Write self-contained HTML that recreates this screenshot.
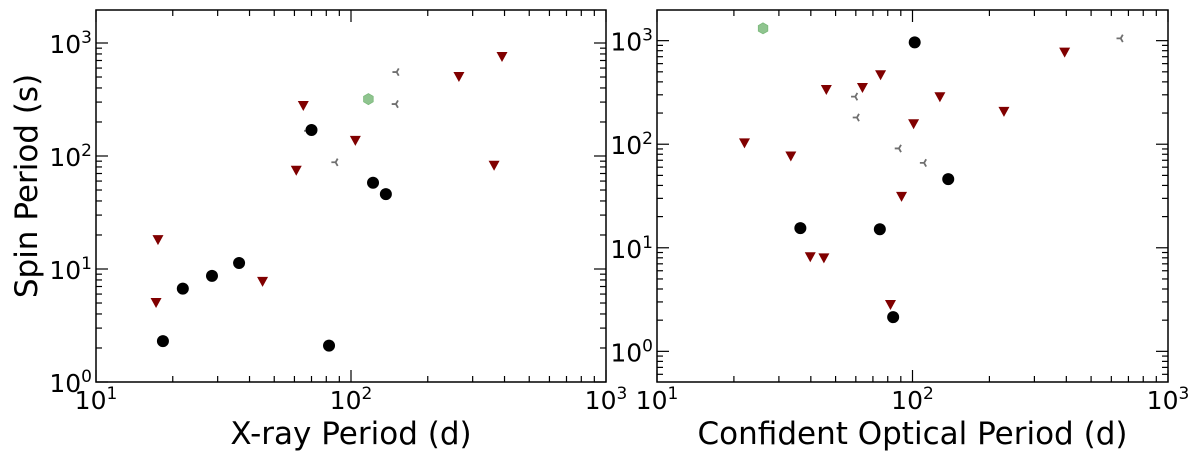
<!DOCTYPE html>
<html><head><meta charset="utf-8">
<style>
html,body{margin:0;padding:0;background:#fff;}
svg{display:block;font-family:"DejaVu Sans","Liberation Sans",sans-serif;}
</style></head>
<body>
<svg id="chart" width="1200" height="460" viewBox="0 0 1200 460" xmlns="http://www.w3.org/2000/svg"></svg>
<script>
// ---- Left panel data (X-ray period vs spin period) ----
const leftCircleX = [18.3, 21.9, 28.5, 36.4, 82, 70, 122, 137];
const leftCircleY = [2.3, 6.7, 8.7, 11.3, 2.1, 170, 58, 46];
const leftTriX = [17.2, 17.5, 45, 65, 61, 104, 265, 391, 364];
const leftTriY = [5.0, 18, 7.7, 277, 74, 136, 500, 752, 82];
const leftGreyX = [151, 150, 87, 68];
const leftGreyY = [553, 288, 88, 167];
const leftHexX = [117];
const leftHexY = [319];
// ---- Right panel data (optical period vs spin period) ----
const rightCircleX = [102, 36.4, 74.5, 84, 138];
const rightCircleY = [963, 15.5, 15.1, 2.14, 46];
const rightTriX = [22, 33.4, 39.8, 45, 46, 63.7, 75, 101, 128, 228, 394, 90.6, 82];
const rightTriY = [102, 76, 8.1, 7.9, 334, 349, 463, 156, 284, 205, 766, 31, 2.8];
const rightGreyX = [59.7, 60.6, 88.5, 111, 653];
const rightGreyY = [288, 181, 91, 66, 1052];
const rightHexX = [26];
const rightHexY = [1315];
// tick labels
const xTickExp = [1, 2, 3];
const yTickExp = [0, 1, 2, 3];

const NS = "http://www.w3.org/2000/svg";
const svg = document.getElementById('chart');
function mk(tag, attrs, parent){
  const e = document.createElementNS(NS, tag);
  for (const k in attrs) e.setAttribute(k, attrs[k]);
  (parent||svg).appendChild(e);
  return e;
}

function panel(cfg){
  const g = mk('g', {});
  
  
  const {x0,x1,y0,y1,xmin,xmax,ymin,ymax} = cfg;
  const sx = v => x0 + (Math.log10(v)-xmin)/(xmax-xmin)*(x1-x0);
  const sy = v => y1 - (Math.log10(v)-ymin)/(ymax-ymin)*(y1-y0);
  const tg = mk('g', {stroke:'#000','stroke-width':1.2}, g);
  
  
  for (let d=Math.floor(xmin); d<=Math.ceil(xmax); d++){
    for (let m=1; m<10; m++){
      const lv = d + Math.log10(m);
      if (lv < xmin-1e-6 || lv > xmax+1e-6) continue;
      const L = m===1 ? 12 : 6;
      const px = sx(Math.pow(10,lv));
      mk('line',{x1:px,x2:px,y1:y1,y2:y1-L},tg);
      mk('line',{x1:px,x2:px,y1:y0,y2:y0+L},tg);
    }
  }
  for (let d=Math.floor(ymin); d<=Math.ceil(ymax); d++){
    for (let m=1; m<10; m++){
      const lv = d + Math.log10(m);
      if (lv < ymin-1e-6 || lv > ymax+1e-6) continue;
      const L = m===1 ? 12 : 6;
      const py = sy(Math.pow(10,lv));
      mk('line',{x1:x0,x2:x0+L,y1:py,y2:py},tg);
      mk('line',{x1:x1,x2:x1-L,y1:py,y2:py},tg);
    }
  }
  const fr = mk('rect',{x:x0,y:y0,width:x1-x0,height:y1-y0,fill:'none',stroke:'#000','stroke-width':1.5},g);
  
  
  xTickExp.forEach(e=>{
    const t = mk('text',{x:sx(Math.pow(10,e)),y:409,'text-anchor':'middle','font-size':25,fill:'#000'},g);
    
    
    const a = mk('tspan',{},t); a.textContent='10';
    const b = mk('tspan',{dy:-10,'font-size':17},t); b.textContent=String(e);
  });
  yTickExp.forEach(e=>{
    const t = mk('text',{x:x0-4,y:sy(Math.pow(10,e))+10,'text-anchor':'end','font-size':25,fill:'#000'},g);
    
    
    const a = mk('tspan',{},t); a.textContent='10';
    const b = mk('tspan',{dy:-10,'font-size':17},t); b.textContent=String(e);
  });
  const xl = mk('text',{x:(x0+x1)/2,y:444,'text-anchor':'middle','font-size':31,fill:'#000'},g);
  
  
  xl.textContent = cfg.xlabel;
  cfg.hexX.forEach((v,i)=>{
    const cx=sx(v), cy=sy(cfg.hexY[i]), r=5.5; let pts=[];
    for(let k=0;k<6;k++){const a=Math.PI/6+k*Math.PI/3; pts.push((cx+r*Math.cos(a)).toFixed(1)+','+(cy+r*Math.sin(a)).toFixed(1));}
    const p = mk('polygon',{points:pts.join(' '),fill:'#8fc48f',stroke:'#7ab87a','stroke-width':0.8},g);
    
    
  });
  cfg.greyX.forEach((v,i)=>{
    const cx=sx(v), cy=sy(cfg.greyY[i]), r=4.2;
    const p = mk('path',{d:`M${cx},${cy} L${cx-r},${cy} M${cx},${cy} L${cx+r*0.5},${cy-r*0.87} M${cx},${cy} L${cx+r*0.5},${cy+r*0.87}`,stroke:'#707070','stroke-width':1.8,fill:'none'},g);
    
    
  });
  cfg.triX.forEach((v,i)=>{
    const cx=sx(v), cy=sy(cfg.triY[i]), w=5.5, h=5;
    const p = mk('polygon',{points:`${cx-w},${cy-h} ${cx+w},${cy-h} ${cx},${cy+h}`,fill:'#800000'},g);
    
    
  });
  cfg.circX.forEach((v,i)=>{
    const c = mk('circle',{cx:sx(v),cy:sy(cfg.circY[i]),r:6,fill:'#000'},g);
    
    
  });
}

panel({name:'left-panel',x0:96,x1:606,y0:10,y1:382,xmin:1,xmax:3,ymin:0,ymax:3.292,
  xlabel:'X-ray Period (d)',circX:leftCircleX,circY:leftCircleY,triX:leftTriX,triY:leftTriY,
  greyX:leftGreyX,greyY:leftGreyY,hexX:leftHexX,hexY:leftHexY});
panel({name:'right-panel',x0:657,x1:1168,y0:10,y1:382,xmin:1,xmax:3,ymin:-0.296,ymax:3.296,
  xlabel:'Confident Optical Period (d)',circX:rightCircleX,circY:rightCircleY,triX:rightTriX,triY:rightTriY,
  greyX:rightGreyX,greyY:rightGreyY,hexX:rightHexX,hexY:rightHexY});

const yl = mk('text',{x:0,y:0,'text-anchor':'middle','font-size':31,fill:'#000',transform:'translate(37,186) rotate(-90)'});


yl.textContent = 'Spin Period (s)';
</script>
</body></html>
